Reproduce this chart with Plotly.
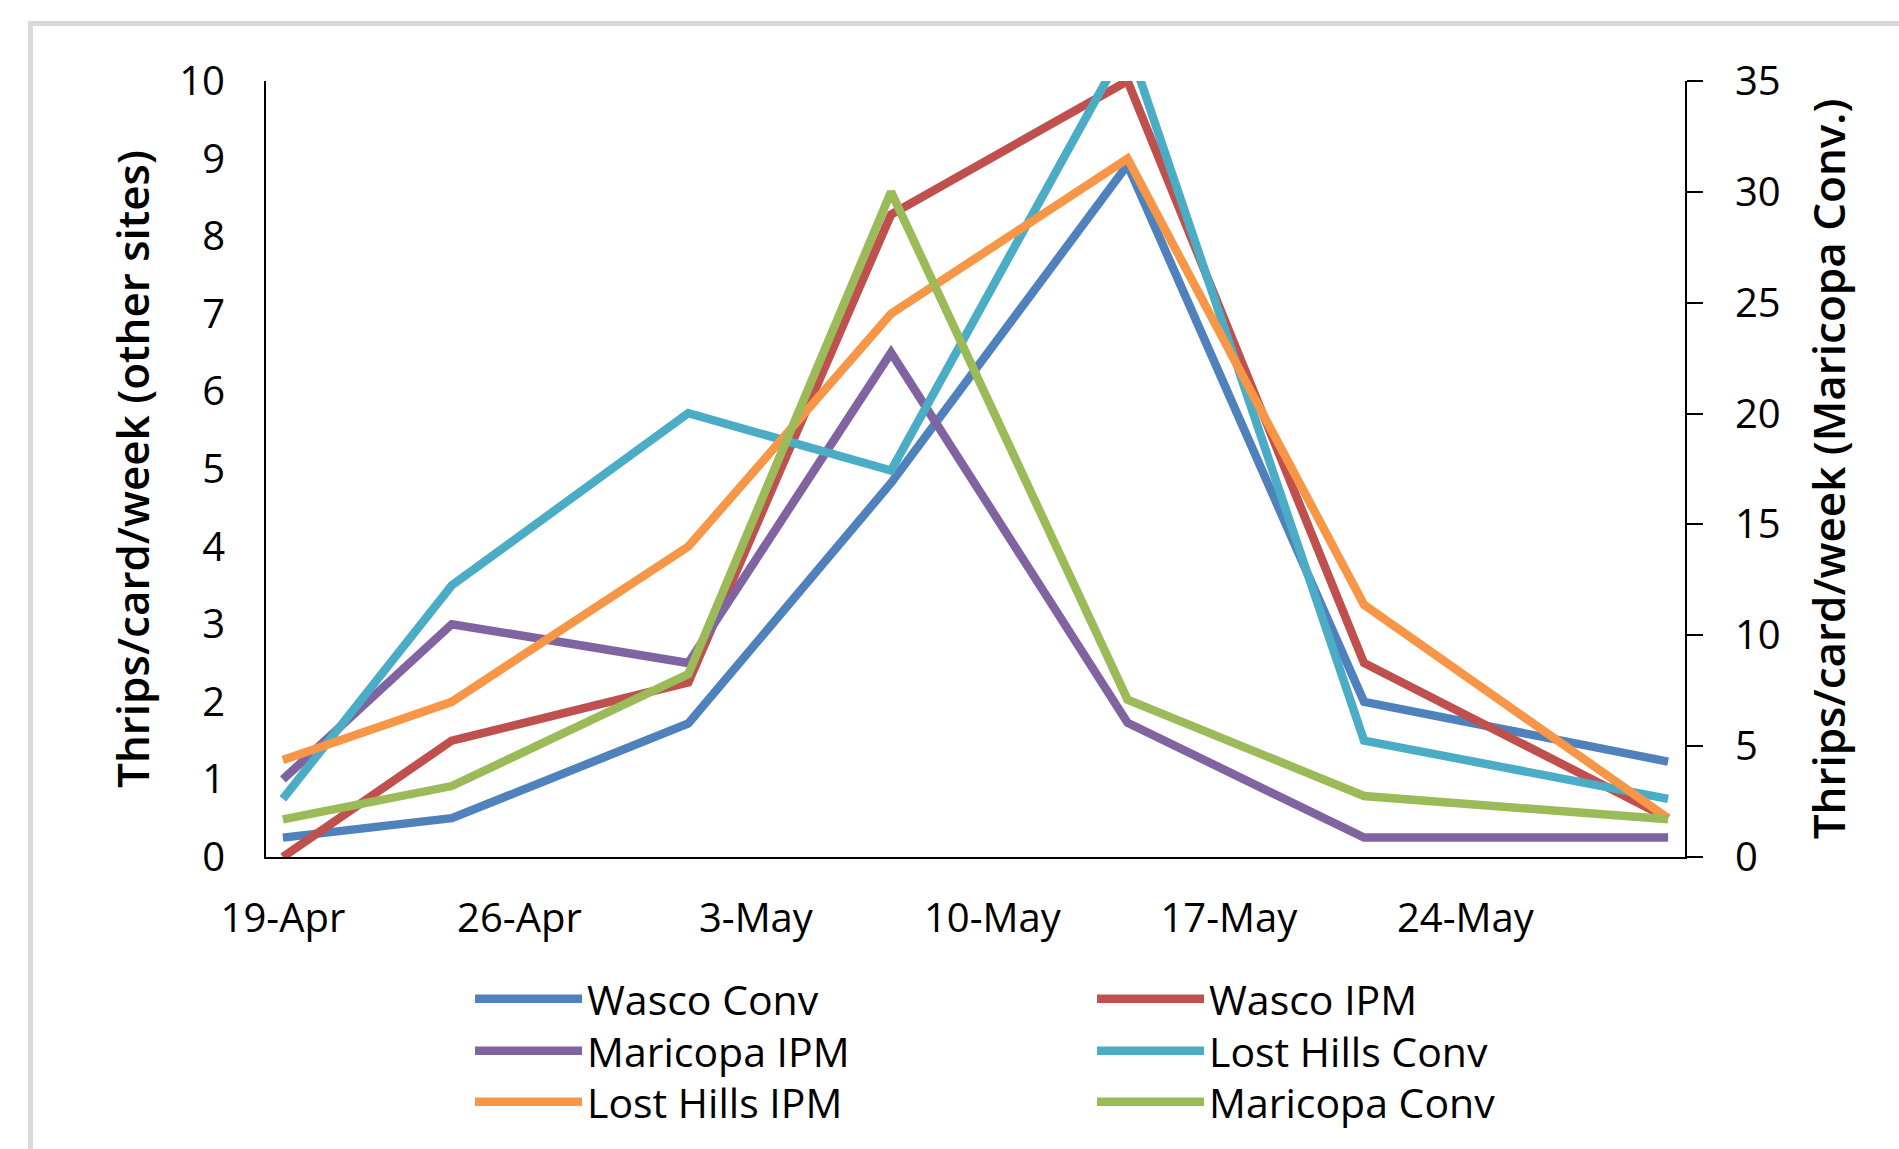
import plotly.graph_objects as go

W, H = 1899, 1149
L, R, T, B = 266, 1685, 81, 857  # plot area in pixels

dates = ["2015-04-19", "2015-04-24", "2015-05-01", "2015-05-07",
         "2015-05-14", "2015-05-21", "2015-05-30"]

wasco_conv = [0.25, 0.5, 1.72, 4.82, 8.92, 2.0, 1.23]
wasco_ipm = [0.0, 1.5, 2.25, 8.28, 10.0, 2.5, 0.5]
maricopa_ipm = [1.0, 3.0, 2.5, 6.5, 1.73, 0.25, 0.25]
lost_hills_conv = [0.75, 3.5, 5.72, 4.98, 10.5, 1.5, 0.75]
lost_hills_ipm = [1.25, 2.0, 4.0, 7.0, 9.0, 3.25, 0.5]
maricopa_conv = [1.7, 3.2, 8.25, 30.0, 7.1, 2.75, 1.7]  # right axis

series = [
    ("Wasco Conv", wasco_conv, "#4F81BD", "y", "legend"),
    ("Wasco IPM", wasco_ipm, "#C0504D", "y", "legend"),
    ("Maricopa IPM", maricopa_ipm, "#8064A2", "y", "legend2"),
    ("Lost Hills Conv", lost_hills_conv, "#4BACC6", "y", "legend2"),
    ("Lost Hills IPM", lost_hills_ipm, "#F79646", "y", "legend3"),
    ("Maricopa Conv", maricopa_conv, "#9BBB59", "y2", "legend3"),
]

FONT = "Open Sans"
TICK_SIZE = 40
LEG_SIZE = 41
TITLE_SIZE = 44


def px_x(p):
    return (p - L) / (R - L)


def px_y(p):
    return (B - p) / (B - T)


fig = go.Figure()
for name, vals, color, yax, leg in series:
    fig.add_trace(go.Scatter(
        x=dates, y=vals, name=name, mode="lines", yaxis=yax, legend=leg,
        line=dict(color=color, width=8.5),
    ))


def legend_row(ypix):
    return dict(
        orientation="h", x=px_x(470), y=px_y(ypix), xanchor="left", yanchor="middle",
        bgcolor="rgba(0,0,0,0)", borderwidth=0, itemwidth=107,
        entrywidth=500, entrywidthmode="pixels",
        font=dict(size=LEG_SIZE), tracegroupgap=0,
    )


fig.update_layout(
    width=W, height=H,
    margin=dict(l=L, r=W - R, t=T, b=H - B, autoexpand=False),
    paper_bgcolor="white", plot_bgcolor="white",
    font=dict(family=FONT, size=TICK_SIZE, color="#000000"),
    xaxis=dict(
        type="date",
        range=["2015-04-18 12:00", "2015-05-30 12:00"],
        tick0="2015-04-19", dtick=7 * 86400000,
        tickformat="%-d-%b",
        showline=True, linecolor="#000000", linewidth=2,
        showgrid=False, zeroline=False, ticks="",
        ticklabelstandoff=25,
        tickfont=dict(size=TICK_SIZE),
    ),
    yaxis=dict(
        range=[0, 10], dtick=1, tick0=0,
        showline=True, linecolor="#000000", linewidth=2,
        showgrid=False, zeroline=False, ticks="",
        ticklabelstandoff=31,
        tickfont=dict(size=TICK_SIZE),
        title=dict(text="Thrips/card/week (other sites)",
                   font=dict(size=TITLE_SIZE, weight=600), standoff=16),
    ),
    yaxis2=dict(
        range=[0, 35], dtick=5, tick0=0,
        overlaying="y", side="right",
        showline=True, linecolor="#000000", linewidth=2,
        showgrid=False, zeroline=False,
        ticks="outside", ticklen=16, tickwidth=2, tickcolor="#000000",
        ticklabelstandoff=24,
        tickfont=dict(size=TICK_SIZE),
        title=dict(text="Thrips/card/week (Maricopa Conv.)",
                   font=dict(size=TITLE_SIZE, weight=600), standoff=34),
    ),
    legend=legend_row(999),
    legend2=legend_row(1051),
    legend3=legend_row(1102),
    shapes=[dict(
        type="rect", xref="paper", yref="paper",
        x0=px_x(30.5), y0=px_y(H + 20), x1=px_x(W + 20), y1=px_y(23.5),
        line=dict(color="#D9D9D9", width=5), fillcolor="rgba(0,0,0,0)",
        layer="below",
    )],
)

fig.write_html("out.html")
